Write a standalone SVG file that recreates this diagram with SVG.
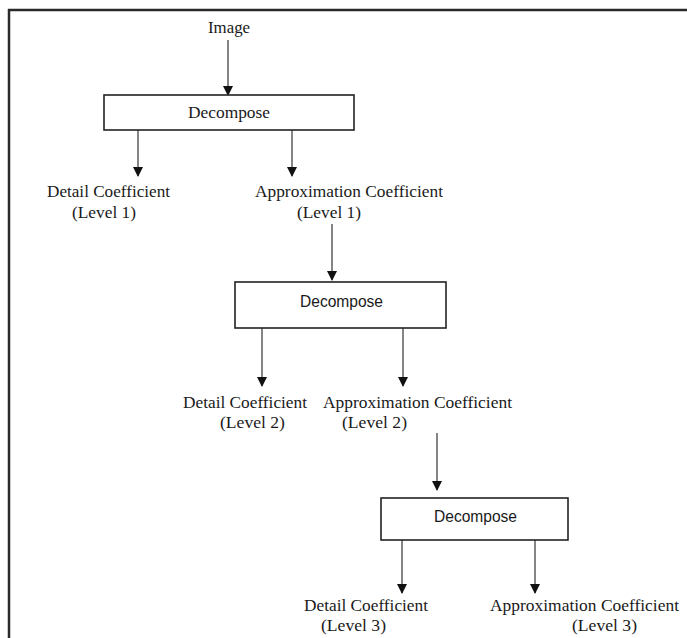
<svg xmlns="http://www.w3.org/2000/svg" width="687" height="638" viewBox="0 0 687 638">
<style>
.t{font-family:"Liberation Serif","Times New Roman",serif;font-size:16.5px;fill:#1a1a1a}
.s{font-family:"Liberation Sans",Arial,sans-serif;font-size:16px;fill:#1a1a1a}
.box{fill:#fff;stroke:#222;stroke-width:1.6}
.c{stroke:#222;stroke-width:1.1;fill:none;marker-end:url(#ah)}
</style>
<defs>
<marker id="ah" markerWidth="10" markerHeight="10" refX="9" refY="5" orient="auto" markerUnits="userSpaceOnUse">
<path d="M0,0 L10,5 L0,10 Z" fill="#111"/>
</marker>
</defs>
<rect width="687" height="638" fill="#fff"/>
<g id="frame">
<line x1="8" y1="10" x2="687" y2="10" stroke="#2a2a2a" stroke-width="2.5"/>
<line x1="9" y1="9" x2="9" y2="638" stroke="#2a2a2a" stroke-width="2.5"/>
</g>
<g id="connectors">
<path class="c" d="M228,40 V95"/>
<path class="c" d="M138,130 V176"/>
<path class="c" d="M292,130 V176"/>
<path class="c" d="M332,224 V280"/>
<path class="c" d="M262,328 V386"/>
<path class="c" d="M403,328 V386"/>
<path class="c" d="M437,433 V490"/>
<path class="c" d="M402,540 V593"/>
<path class="c" d="M535,540 V593"/>
</g>
<g id="image"><text class="t" x="208" y="33" textLength="42" lengthAdjust="spacingAndGlyphs">Image</text></g>
<g id="decompose1">
<rect class="box" x="104" y="95" width="250" height="35"/>
<text class="t" x="188" y="118" textLength="82" lengthAdjust="spacingAndGlyphs">Decompose</text>
</g>
<g id="detail1">
<text class="t" x="47" y="197" textLength="123" lengthAdjust="spacingAndGlyphs">Detail Coefficient</text>
<text class="t" x="72" y="218" textLength="64" lengthAdjust="spacingAndGlyphs">(Level 1)</text>
</g>
<g id="approx1">
<text class="t" x="255" y="197" textLength="188" lengthAdjust="spacingAndGlyphs">Approximation Coefficient</text>
<text class="t" x="297" y="218" textLength="64" lengthAdjust="spacingAndGlyphs">(Level 1)</text>
</g>
<g id="decompose2">
<rect class="box" x="235" y="282" width="211" height="46"/>
<text class="s" x="300" y="307" textLength="83" lengthAdjust="spacingAndGlyphs">Decompose</text>
</g>
<g id="detail2">
<text class="t" x="183" y="408" textLength="124" lengthAdjust="spacingAndGlyphs">Detail Coefficient</text>
<text class="t" x="220" y="428" textLength="65" lengthAdjust="spacingAndGlyphs">(Level 2)</text>
</g>
<g id="approx2">
<text class="t" x="323" y="408" textLength="189" lengthAdjust="spacingAndGlyphs">Approximation Coefficient</text>
<text class="t" x="342" y="428" textLength="65" lengthAdjust="spacingAndGlyphs">(Level 2)</text>
</g>
<g id="decompose3">
<rect class="box" x="381" y="498" width="187" height="42"/>
<text class="s" x="434" y="522" textLength="83" lengthAdjust="spacingAndGlyphs">Decompose</text>
</g>
<g id="detail3">
<text class="t" x="304" y="611" textLength="124" lengthAdjust="spacingAndGlyphs">Detail Coefficient</text>
<text class="t" x="321" y="631" textLength="65" lengthAdjust="spacingAndGlyphs">(Level 3)</text>
</g>
<g id="approx3">
<text class="t" x="490" y="611" textLength="189" lengthAdjust="spacingAndGlyphs">Approximation Coefficient</text>
<text class="t" x="572" y="631" textLength="65" lengthAdjust="spacingAndGlyphs">(Level 3)</text>
</g>
</svg>
